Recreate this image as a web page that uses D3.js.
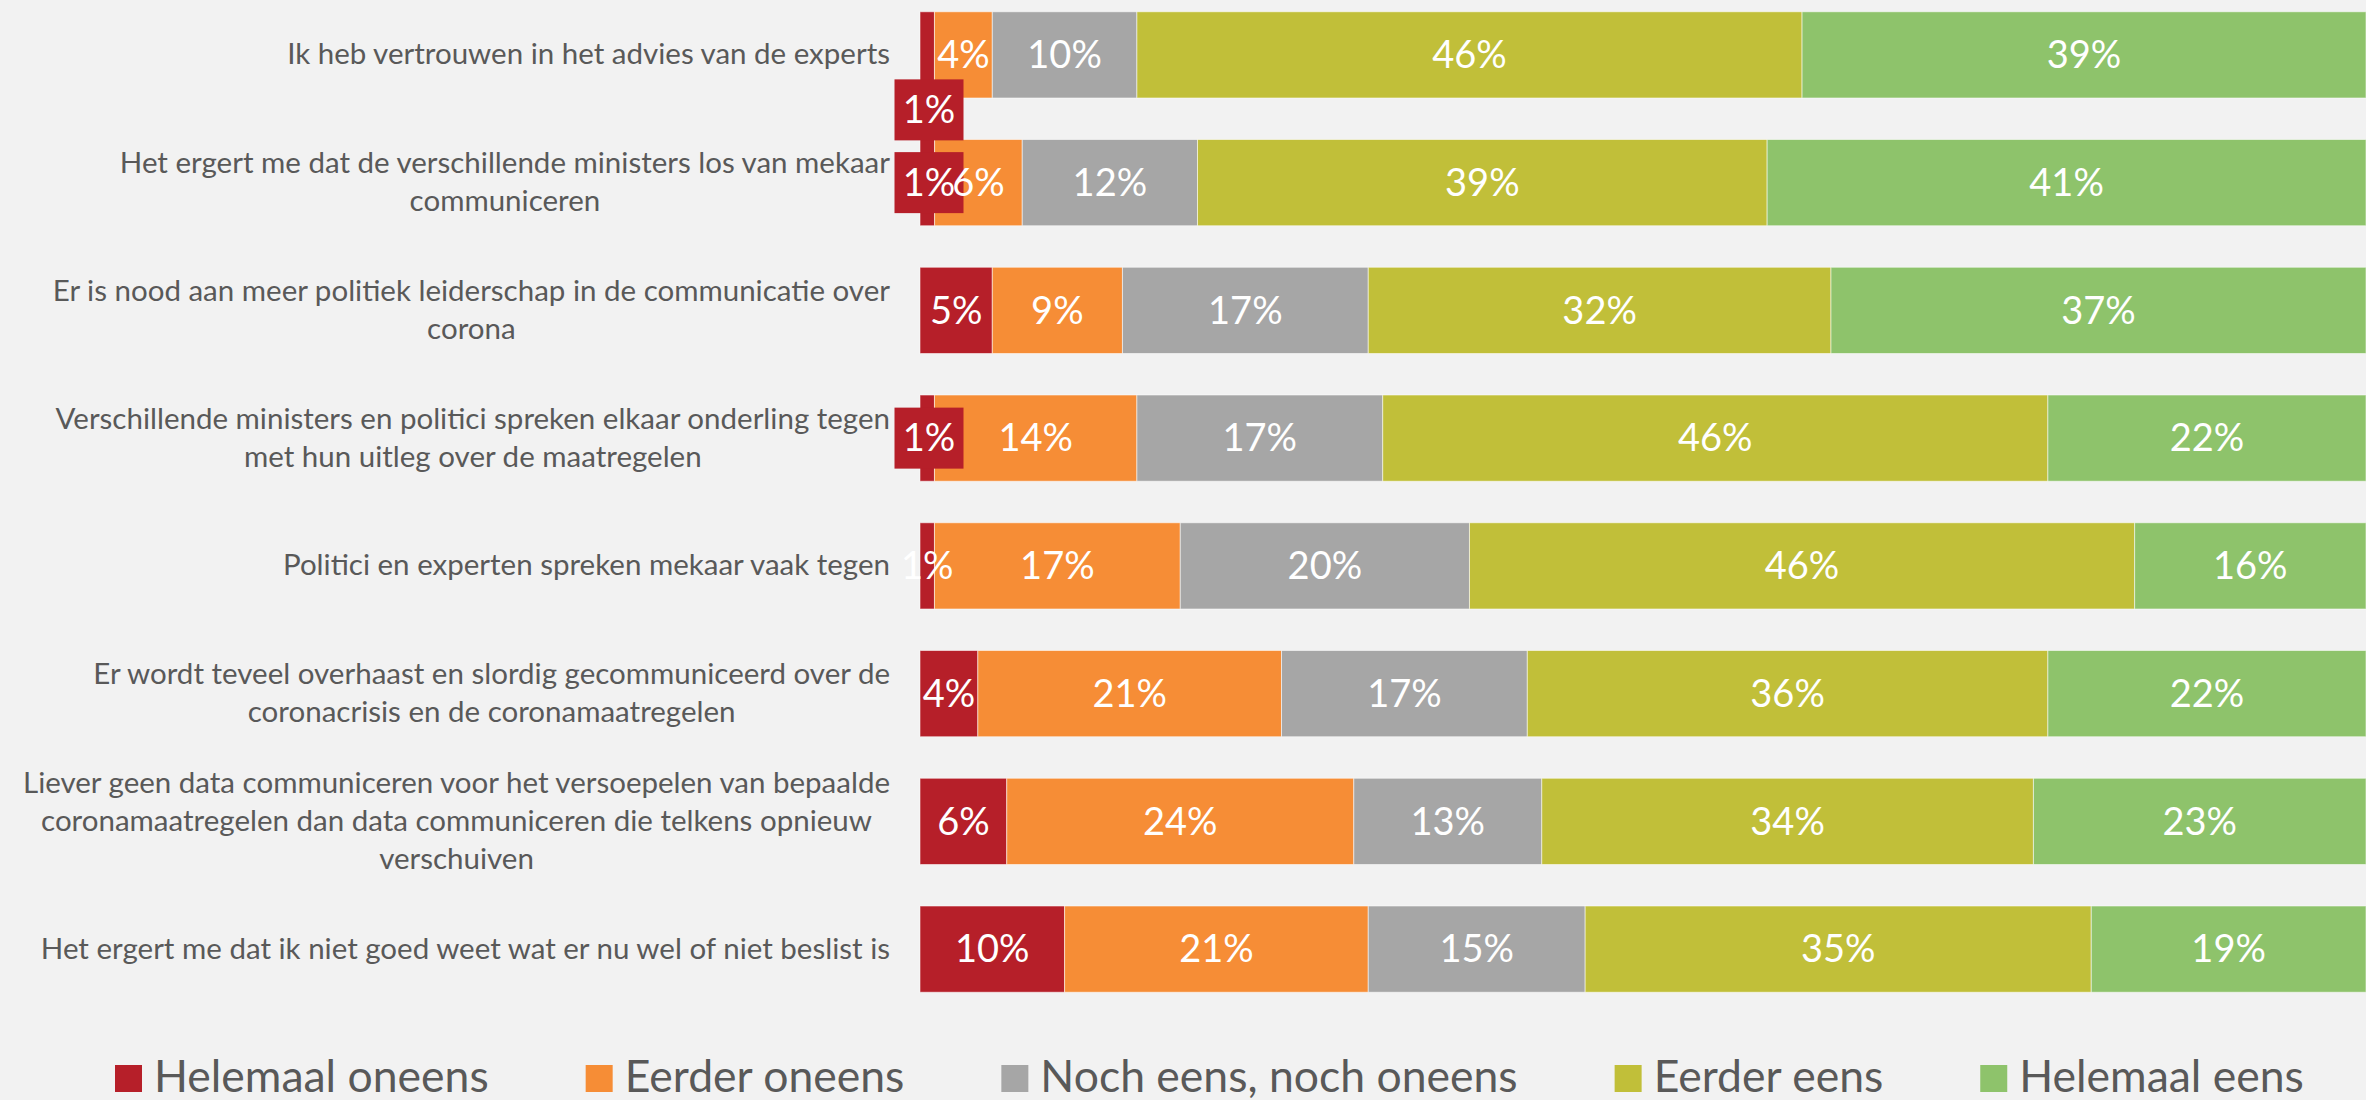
<!DOCTYPE html>
<html>
<head>
<meta charset="utf-8">
<script src="https://cdn.jsdelivr.net/npm/d3@7"></script>
<style>
	body { margin: 0; background: #f2f2f2; overflow: hidden; }
	svg text { font-family: Lato, 'Open Sans', sans-serif; }
</style>
</head>
<body>
<svg id="chart"></svg>
<script>
// statements, line breaks as in the original chart
var categories = [
	'Ik heb vertrouwen in het advies van de experts',
	'Het ergert me dat de verschillende ministers los van mekaar\ncommuniceren',
	'Er is nood aan meer politiek leiderschap in de communicatie over\ncorona',
	'Verschillende ministers en politici spreken elkaar onderling tegen\nmet hun uitleg over de maatregelen',
	'Politici en experten spreken mekaar vaak tegen',
	'Er wordt teveel overhaast en slordig gecommuniceerd over de\ncoronacrisis en de coronamaatregelen',
	'Liever geen data communiceren voor het versoepelen van bepaalde\ncoronamaatregelen dan data communiceren die telkens opnieuw\nverschuiven',
	'Het ergert me dat ik niet goed weet wat er nu wel of niet beslist is',
];

var seriesNames = ['Helemaal oneens', 'Eerder oneens', 'Noch eens, noch oneens', 'Eerder eens', 'Helemaal eens'];

var helemaalOneens = [1, 1, 5, 1, 1, 4, 6, 10];
var eerderOneens = [4, 6, 9, 14, 17, 21, 24, 21];
var nochNoch = [10, 12, 17, 17, 20, 17, 13, 15];
var eerderEens = [46, 39, 32, 46, 46, 36, 34, 35];
var helemaalEens = [39, 41, 37, 22, 16, 22, 23, 19];

var colors = ['#b61f29', '#f68d36', '#a6a6a6', '#c1bf39', '#8ec36b'];

var width = 2366,
	height = 1100;

var values = [helemaalOneens, eerderOneens, nochNoch, eerderEens, helemaalEens];
var rows = categories.map(function(c, i) {
	var r = { cat: c };
	seriesNames.forEach(function(s, j) {
		r[s] = values[j][i];
	});
	return r;
});

var svg = d3
	.select('#chart')
	.attr('width', width)
	.attr('height', height);

svg.append('rect')
	.attr('width', width)
	.attr('height', height)
	.attr('fill', '#f2f2f2');

var x = d3
	.scaleLinear()
	.domain([0, 1])
	.range([920, 2366]);

var y = d3
	.scaleBand()
	.domain(categories)
	.range([-9, 1013])
	.paddingInner(0.325)
	.paddingOuter(0.1625);

var stack = d3
	.stack()
	.keys(seriesNames)
	.offset(d3.stackOffsetExpand);

var layers = stack(rows);

var layer = svg
	.selectAll('.layer')
	.data(layers)
	.enter()
	.append('g')
	.attr('class', 'layer')
	.attr('fill', function(d, i) {
		return colors[i];
	});

layer.selectAll('rect')
	.data(function(d) {
		return d;
	})
	.enter()
	.append('rect')
	.attr('x', function(d) {
		return x(d[0]);
	})
	.attr('y', function(d) {
		return y(d.data.cat);
	})
	.attr('width', function(d) {
		return x(d[1]) - x(d[0]);
	})
	.attr('height', y.bandwidth())
	.attr('stroke', '#ffffff')
	.attr('stroke-opacity', 0.55)
	.attr('stroke-width', 1);

// the tiny 1% labels were boxed (and one moved down) in the original
var boxed = { '0-0': 55, '1-0': 0, '3-0': 0 };

layers.forEach(function(l, si) {
	l.forEach(function(d, ri) {
		var cx = (x(d[0]) + x(d[1])) / 2;
		var cy = y(d.data.cat) + y.bandwidth() / 2;
		var key = ri + '-' + si;
		if (key in boxed) {
			cy += boxed[key];
			cx = Math.max(cx, 929);
			svg.append('rect')
				.attr('x', cx - 34.5)
				.attr('y', cy - 30.5)
				.attr('width', 69)
				.attr('height', 61)
				.attr('fill', colors[si]);
		}
		svg.append('text')
			.attr('x', cx)
			.attr('y', cy)
			.attr('dy', '0.35em')
			.attr('text-anchor', 'middle')
			.attr('font-size', 38)
			.attr('fill', 'white')
			.text(d.data[seriesNames[si]] + '%');
	});
});

// category labels: lines centred on each other, block right aligned at 890
categories.forEach(function(c) {
	var lines = c.split('\n');
	var g = svg.append('g');
	var cy = y(c) + y.bandwidth() / 2;
	var texts = lines.map(function(line, i) {
		return g
			.append('text')
			.attr('y', cy + (i - (lines.length - 1) / 2) * 38)
			.attr('dy', '0.32em')
			.attr('text-anchor', 'middle')
			.attr('font-size', 29.5)
			.attr('fill', '#595959')
			.text(line);
	});
	var maxW = d3.max(texts, function(t) {
		return t.node().getComputedTextLength();
	});
	texts.forEach(function(t) {
		t.attr('x', 890 - maxW / 2);
	});
});

// legend
var lx = 115;
seriesNames.forEach(function(s, i) {
	svg.append('rect')
		.attr('x', lx)
		.attr('y', 1065)
		.attr('width', 27)
		.attr('height', 27)
		.attr('fill', colors[i]);
	var t = svg
		.append('text')
		.attr('x', lx + 39)
		.attr('y', 1092)
		.attr('font-size', 44.5)
		.attr('fill', '#595959')
		.text(s);
	lx += 39 + t.node().getComputedTextLength() + 97;
});
</script>
</body>
</html>
